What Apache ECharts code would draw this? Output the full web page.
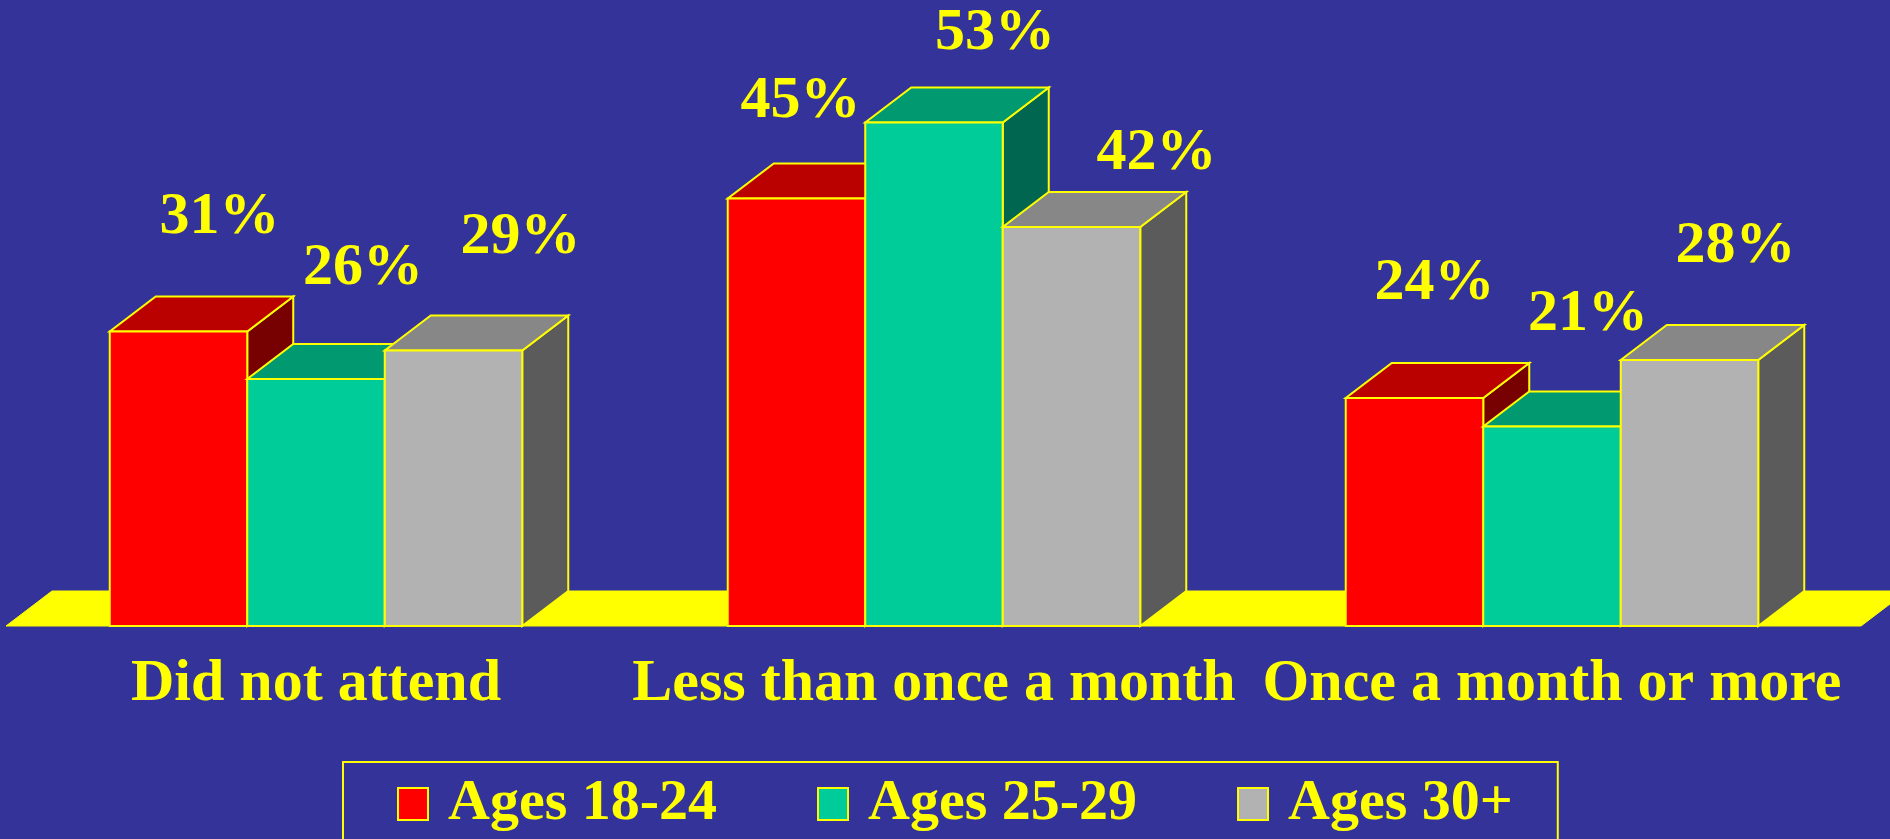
<!DOCTYPE html>
<html>
<head>
<meta charset="utf-8">
<script src="https://cdn.jsdelivr.net/npm/echarts@6/dist/echarts.min.js"></script>
<style>
html,body{margin:0;padding:0;background:#333399;}
#chart{width:1890px;height:839px;}
</style>
</head>
<body>
<div id="chart"></div>
<script>
// ---- data ----
const categories = ['Did not attend', 'Less than once a month', 'Once a month or more'];
const seriesNames = ['Ages 18-24', 'Ages 25-29', 'Ages 30+'];
const ages18_24 = [31, 45, 24];
const ages25_29 = [26, 53, 21];
const ages30plus = [29, 42, 28];

// ---- style (kept separate from data) ----
const FONT = "'Times New Roman', 'Liberation Serif', serif";
const YELLOW = '#FFFF00';
const palettes = [
  { front: '#FF0000', top: '#BB0000', side: '#770000' },
  { front: '#00CC99', top: '#009970', side: '#006650' },
  { front: '#B2B2B2', top: '#878787', side: '#5B5B5B' }
];
// label placement per bar: horizontal shift from bar centre, gap above bar top
const labelShiftX = [[41, 4, 20], [47, 61, 36], [67, 85, 46]];
const labelGapY = [[94, 77, 95], [91, 69, 92], [93, 54, 94]];
const DX = 46, DY = 35, BAR_FRAC = 0.2225;

function barRenderer(si) {
  return function (params, api) {
    const ci = api.value(0);
    const v = api.value(1);
    const base = api.coord([ci, 0]);
    const top = api.coord([ci, v]);
    const band = api.size([1, 0])[0];
    const bw = band * BAR_FRAC;
    const x0 = base[0] + (si - 1.5) * bw;
    const x1 = x0 + bw;
    const yb = base[1], yt = top[1];
    const p = palettes[si];
    const stroke = { stroke: YELLOW, lineWidth: 2, lineJoin: 'miter' };
    const cx = x0 + bw / 2 + labelShiftX[si][ci];
    const baseline = yt - labelGapY[si][ci];
    return {
      type: 'group',
      children: [
        { type: 'polygon', shape: { points: [[x1, yt], [x1 + DX, yt - DY], [x1 + DX, yb - DY], [x1, yb]] },
          style: Object.assign({ fill: p.side }, stroke) },
        { type: 'polygon', shape: { points: [[x0, yt], [x1, yt], [x1 + DX, yt - DY], [x0 + DX, yt - DY]] },
          style: Object.assign({ fill: p.top }, stroke) },
        { type: 'rect', shape: { x: x0, y: yt, width: bw, height: yb - yt },
          style: Object.assign({ fill: p.front }, stroke) },
        { type: 'text', x: cx, y: baseline - 20,
          style: { text: v + '%', fill: YELLOW, font: 'bold 60px ' + FONT, align: 'center', verticalAlign: 'middle' } }
      ]
    };
  };
}

function floorRenderer(params, api) {
  const cs = params.coordSys;
  const yb = api.coord([0, 0])[1];
  const xl = cs.x - 1, xr = cs.x + cs.width;
  return {
    type: 'polygon',
    z2: 0,
    shape: { points: [[xl, yb], [xr, yb], [xr + DX, yb - DY], [xl + DX, yb - DY]] },
    style: { fill: YELLOW, stroke: YELLOW, lineWidth: 1 }
  };
}

const allValues = [ages18_24, ages25_29, ages30plus];
const series = [{
  type: 'custom', name: 'floor', renderItem: floorRenderer, data: [[0, 0]], z: 1, silent: true
}];
allValues.forEach((vals, si) => {
  series.push({
    type: 'custom',
    name: seriesNames[si],
    renderItem: barRenderer(si),
    itemStyle: { color: palettes[si].front },
    data: vals.map((v, i) => [i, v]),
    encode: { x: 0, y: 1 },
    z: 2 + si
  });
});

const chart = echarts.init(document.getElementById('chart'), null, { renderer: 'canvas' });
chart.setOption({
  backgroundColor: '#333399',
  animation: false,
  grid: { left: 7, top: 56, bottom: 213, width: 1854 },
  xAxis: {
    type: 'category',
    data: categories,
    axisLine: { show: false },
    axisTick: { show: false },
    splitLine: { show: false },
    axisLabel: { color: YELLOW, fontFamily: FONT, fontWeight: 'bold', fontSize: 60, margin: 28, interval: 0 }
  },
  yAxis: { type: 'value', min: 0, max: 60, show: false },
  legend: {
    data: seriesNames.map((n, i) => ({ name: n, itemStyle: { color: palettes[i].front, borderColor: YELLOW, borderWidth: 2 } })),
    left: 343, top: 762,
    orient: 'horizontal',
    icon: 'rect',
    itemWidth: 30, itemHeight: 32,
    itemGap: 100,
    padding: [13, 45, 40, 54],
    borderColor: YELLOW, borderWidth: 2,
    selectedMode: false,
    textStyle: { color: YELLOW, fontFamily: FONT, fontWeight: 'bold', fontSize: 58, padding: [0, 0, 0, 15] }
  },
  series: series
});
</script>
</body>
</html>
